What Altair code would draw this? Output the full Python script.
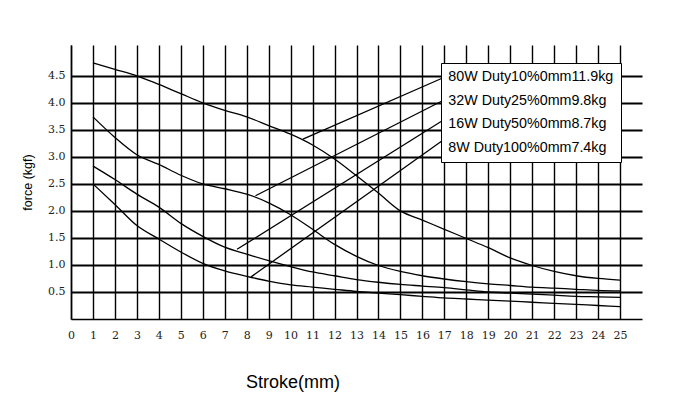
import altair as alt
import pandas as pd

# ---- data ----
stroke_mm = list(range(1, 26))

force_80w = [4.74, 4.62, 4.50, 4.34, 4.17, 4.00, 3.86, 3.74, 3.58, 3.42,
             3.22, 2.96, 2.65, 2.33, 2.00, 1.83, 1.66, 1.49, 1.32, 1.13,
             0.99, 0.88, 0.80, 0.75, 0.72]
force_32w = [3.74, 3.36, 3.04, 2.86, 2.66, 2.50, 2.41, 2.31, 2.15, 1.93,
             1.66, 1.38, 1.16, 0.99, 0.88, 0.80, 0.74, 0.69, 0.65, 0.62,
             0.59, 0.57, 0.55, 0.53, 0.52]
force_16w = [2.83, 2.58, 2.31, 2.07, 1.77, 1.53, 1.33, 1.20, 1.08, 0.97,
             0.87, 0.80, 0.73, 0.68, 0.64, 0.61, 0.58, 0.54, 0.50, 0.48,
             0.46, 0.44, 0.42, 0.41, 0.40]
force_8w = [2.50, 2.12, 1.73, 1.48, 1.24, 1.03, 0.89, 0.79, 0.70, 0.63,
            0.59, 0.55, 0.51, 0.48, 0.45, 0.42, 0.39, 0.37, 0.35, 0.33,
            0.31, 0.29, 0.27, 0.25, 0.23]

series_labels = ["80W Duty10%0mm11.9kg", "32W Duty25%0mm9.8kg",
                 "16W Duty50%0mm8.7kg", "8W Duty100%0mm7.4kg"]

# leader lines from each curve up to the label box
leader_start_stroke = [10.56, 8.40, 7.56, 8.20]
leader_start_force = [3.33, 2.28, 1.29, 0.78]
leader_end_stroke = [16.87, 16.87, 16.87, 16.87]
leader_end_force = [4.45, 4.03, 3.66, 3.29]

x_ticks = list(range(0, 26))
y_ticks = [0.5, 1.0, 1.5, 2.0, 2.5, 3.0, 3.5, 4.0, 4.5]

# ---- tables ----
rows = []
for label, vals in zip(series_labels, [force_80w, force_32w, force_16w, force_8w]):
    for s, f in zip(stroke_mm, vals):
        rows.append({"series": label, "stroke": s, "force": f})
curves = pd.DataFrame(rows)

leaders = pd.DataFrame({
    "series": series_labels,
    "s0": leader_start_stroke, "f0": leader_start_force,
    "s1": leader_end_stroke, "f1": leader_end_force,
})

x_scale = alt.Scale(domain=[0, 26], nice=False, zero=False)
y_scale = alt.Scale(domain=[0, 5.07], nice=False, zero=False)

x_axis = alt.Axis(
    values=x_ticks, title="Stroke(mm)", grid=True, gridColor="black",
    gridWidth=1.4, gridOpacity=1, ticks=False, tickSize=0,
    domainColor="black", domainWidth=1.5,
    labelFont="DejaVu Serif", labelFontSize=11, labelColor="#222",
    labelPadding=10, labelFlush=False, labelOverlap=False,
    titleFont="Liberation Sans", titleFontSize=18, titleFontWeight="normal",
    titleColor="black", titleX=221.5, titleY=68, titleAlign="center",
    titleBaseline="alphabetic",
)
y_axis = alt.Axis(
    values=y_ticks, format=".1f", title="force (kgf)", grid=True,
    gridColor="black", gridWidth=1.8, gridOpacity=1, ticks=False, tickSize=0,
    domainColor="black", domainWidth=1.5,
    labelFont="DejaVu Serif", labelFontSize=11, labelColor="#222",
    labelPadding=6, labelOverlap=False,
    titleFont="Liberation Sans", titleFontSize=12.5, titleFontWeight="normal",
    titleColor="black", titleX=-44, titleY=137, titleAngle=270,
    titleAlign="center", titleBaseline="middle",
)

legend = alt.Legend(
    orient="none", legendX=370, legendY=18, title=None,
    labelFont="Liberation Sans", labelFontSize=14.3, labelColor="black",
    labelLimit=400, symbolSize=0.01, symbolStrokeWidth=0, symbolOpacity=0,
    labelOffset=alt.ExprRef(expr="-14"), padding=7, rowPadding=8.5,
    strokeColor="black", fillColor="white", cornerRadius=0,
)

lines = alt.Chart(curves).mark_line(
    interpolate="monotone", strokeWidth=1.3
).encode(
    x=alt.X("stroke:Q", scale=x_scale, axis=x_axis),
    y=alt.Y("force:Q", scale=y_scale, axis=y_axis),
    color=alt.Color("series:N", sort=series_labels,
                    scale=alt.Scale(domain=series_labels, range=["black"] * 4),
                    legend=legend),
)

leader_lines = alt.Chart(leaders).mark_rule(strokeWidth=1.3, color="black").encode(
    x=alt.X("s0:Q", scale=x_scale, axis=x_axis),
    y=alt.Y("f0:Q", scale=y_scale, axis=y_axis),
    x2="s1:Q",
    y2="f1:Q",
    detail="series:N",
)

chart = alt.layer(lines, leader_lines).properties(
    width=571, height=274,
    autosize=alt.AutoSizeParams(type="none"),
    padding={"left": 63, "top": 37, "right": 20, "bottom": 76},
    background="white",
).configure_view(strokeWidth=0)

chart.save("out.html", embed_options={"renderer": "svg", "actions": False})
